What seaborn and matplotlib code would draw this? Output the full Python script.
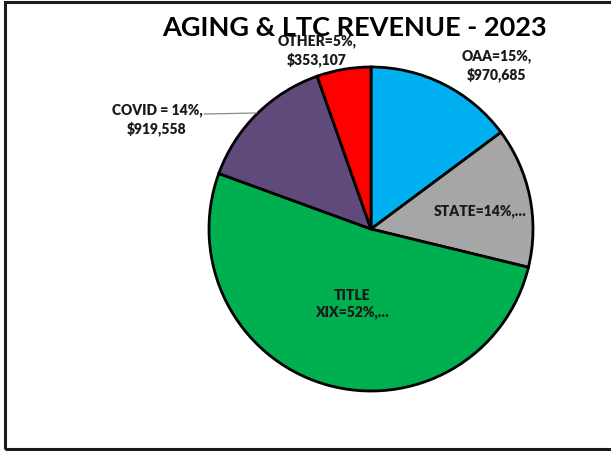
import matplotlib
matplotlib.use("Agg")
import matplotlib.pyplot as plt
from matplotlib.patches import Rectangle
import seaborn as sns
import pandas as pd

# Revenue sources for 2023
categories = ["OAA", "STATE", "TITLE XIX", "COVID", "OTHER"]
revenue = [970685, 915000, 3390000, 919558, 353107]
slice_colors = ["#00B0F0", "#A6A6A6", "#00B050", "#604A7B", "#FF0000"]
slice_labels = [
    "OAA=15%,\n$970,685",
    "STATE=14%,…",
    "TITLE\nXIX=52%,…",
    "COVID = 14%,\n$919,558",
    "OTHER=5%,\n$353,107",
]
title = "AGING & LTC REVENUE - 2023"

df = pd.DataFrame({"category": categories, "revenue": revenue,
                   "color": slice_colors, "label": slice_labels})

sns.set_style("white")
plt.rcParams["font.family"] = ["Lato", "DejaVu Sans"]

W, H = 611, 452
fig = plt.figure(figsize=(W / 100, H / 100), dpi=100)

# chart frame (open on the right side)
fig.patches.append(Rectangle((4.5 / W, 2.5 / H), 1.2, 1 - 5 / H,
                             transform=fig.transFigure, fill=False,
                             edgecolor="#1a1a1a", linewidth=2.2, clip_on=False))

cx, cy, r = 371, 230, 162
ax = fig.add_axes([(cx - r) / W, (H - cy - r) / H, 2 * r / W, 2 * r / H])
ax.pie(df["revenue"], colors=df["color"], startangle=90, counterclock=False,
       wedgeprops=dict(edgecolor="black", linewidth=2.0))
ax.set_xlim(-1, 1)
ax.set_ylim(-1, 1)
ax.axis("off")


def to_data(px, py):
    return (px - cx) / r, (cy - py) / r


label_pos = {
    "OAA": (497, 66),
    "STATE": (480, 211),
    "TITLE XIX": (352, 304),
    "COVID": (157, 120),
    "OTHER": (317, 51),
}
for _, row in df.iterrows():
    x, y = to_data(*label_pos[row["category"]])
    ax.text(x, y, row["label"], ha="center", va="center", fontsize=10,
            fontweight="heavy", color="#1a1a1a", linespacing=1.35,
            clip_on=False)

# leader line for the COVID label
x0, y0 = to_data(204, 115)
x1, y1 = to_data(257, 114)
ax.plot([x0, x1], [y0, y1], color="#8c8c8c", linewidth=0.9, clip_on=False)

fig.text(354 / W, 1 - 28 / H, title, ha="center", va="center", fontsize=19.5,
         fontweight="bold", color="black", zorder=5)

fig.savefig("out.png", dpi=100)
